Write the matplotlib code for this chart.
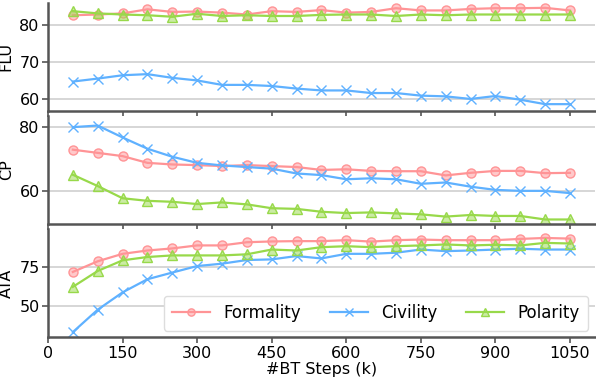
import matplotlib.pyplot as plt
import numpy as np

steps = np.arange(50, 1051, 50)

flu_formality = [82.7, 82.9, 83.2, 84.3, 83.6, 83.7, 83.4, 82.9, 83.8, 83.6, 84.1,
                 83.4, 83.6, 84.6, 84.0, 84.0, 84.4, 84.6, 84.6, 84.7, 84.0]
flu_civility = [64.8, 65.6, 66.5, 66.8, 65.8, 65.1, 63.9, 63.9, 63.6, 62.9, 62.4,
                62.4, 61.7, 61.7, 61.0, 60.8, 60.1, 60.9, 59.9, 58.7, 58.7]
flu_polarity = [83.8, 83.2, 82.9, 82.7, 82.3, 83.1, 82.5, 82.7, 82.5, 82.5, 82.8,
                82.9, 82.9, 82.5, 82.9, 82.7, 82.9, 82.9, 82.9, 82.9, 82.9]

cp_formality = [72.8, 71.8, 70.8, 68.7, 68.2, 68.0, 67.7, 68.0, 67.7, 67.4, 66.5,
                66.7, 66.2, 66.1, 66.1, 64.8, 65.6, 66.2, 66.2, 65.5, 65.6]
cp_civility = [79.8, 80.3, 76.6, 73.1, 70.6, 68.7, 67.9, 67.4, 66.9, 65.4, 64.9,
               63.6, 63.9, 63.6, 62.2, 62.6, 61.3, 60.3, 60.0, 60.0, 59.3]
cp_polarity = [65.0, 61.5, 57.7, 56.9, 56.6, 55.9, 56.4, 55.8, 54.6, 54.4, 53.5,
               53.1, 53.3, 53.0, 52.7, 52.0, 52.5, 52.2, 52.2, 51.1, 51.1]

ata_formality = [71.7, 78.4, 83.1, 85.2, 86.5, 88.4, 88.4, 90.4, 90.9, 91.1, 91.1,
                 91.7, 90.8, 91.7, 92.1, 91.7, 91.7, 91.7, 92.5, 93.1, 92.7]
ata_civility = [33.8, 47.9, 58.8, 67.1, 71.3, 75.4, 76.9, 79.2, 79.6, 81.7, 80.2,
                83.1, 83.1, 83.8, 85.8, 84.8, 85.2, 85.8, 86.3, 85.8, 85.8]
ata_polarity = [62.3, 72.3, 79.0, 81.1, 82.1, 82.1, 82.1, 82.8, 85.8, 85.2, 87.3,
                87.9, 87.3, 87.9, 88.4, 89.0, 88.4, 88.8, 88.4, 90.0, 89.6]

panels = [
    ("FLU", (flu_formality, flu_civility, flu_polarity), (56.9, 86), [60, 70, 80]),
    ("CP", (cp_formality, cp_civility, cp_polarity), (49.7, 83.2), [60, 80]),
    ("ATA", (ata_formality, ata_civility, ata_polarity), (30.6, 98.5), [50, 75]),
]
labels = ["Formality", "Civility", "Polarity"]
colors = ["#ff9496", "#5fb1ff", "#98d94a"]
markers = ["o", "x", "^"]

fig, axes = plt.subplots(3, 1, figsize=(5.96, 3.78), dpi=100, sharex=True)
fig.subplots_adjust(left=0.0805, right=0.998, top=0.992, bottom=0.108, hspace=0.05)

for ax, (name, series, ylim, yticks) in zip(axes, panels):
    for vals, lab, c, m in zip(series, labels, colors, markers):
        ax.plot(steps, vals, color=c, marker=m, markersize=6.5, linewidth=1.6,
                markerfacecolor=c + "80", markeredgecolor=c, label=lab)
    ax.set_ylim(*ylim)
    ax.set_yticks(yticks)
    ax.set_ylabel(name, fontsize=11.5)
    ax.grid(axis="y", color="#d0d0d0", linewidth=1.2)
    ax.set_axisbelow(True)
    for s in ["top", "right"]:
        ax.spines[s].set_visible(False)
    for s in ["left", "bottom"]:
        ax.spines[s].set_color("#555555")
        ax.spines[s].set_linewidth(1.8)
    ax.tick_params(axis="both", labelsize=11.5, color="#555555", length=4, width=1.2, pad=2)

axes[-1].set_xlim(0, 1100)
axes[-1].set_xticks(np.arange(0, 1051, 150))
axes[-1].set_xlabel("#BT Steps (k)", fontsize=11.5, labelpad=1)
axes[-1].legend(loc="lower right", ncol=3, fontsize=12, framealpha=1,
                edgecolor="#dddddd", borderaxespad=0.4, borderpad=0.5,
                columnspacing=1.7, handlelength=2.3, markerscale=0.8)

fig.savefig("out.png", dpi=100)
